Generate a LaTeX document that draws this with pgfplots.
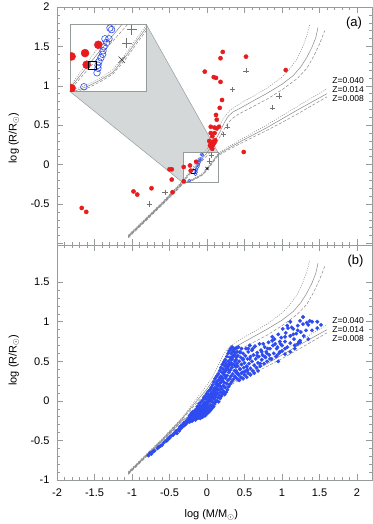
\documentclass[border=0pt]{standalone}
\usepackage{fontspec}
\setmainfont{Liberation Sans}
\usepackage{pgfplots}
\usepackage{pgfplotstable}
\pgfplotsset{compat=1.18}

\definecolor{axgray}{RGB}{150,156,156}
\definecolor{trk}{RGB}{135,135,135}
\definecolor{ptred}{RGB}{232,28,30}
\definecolor{ptblue}{RGB}{45,75,240}
\definecolor{zoomfill}{RGB}{212,216,216}

% ZAMS / TAMS tracks, A: Z=0.040 (dotted), B: Z=0.014 (solid), C: Z=0.008 (dashed)
\pgfplotstableread{
x y
-1.05 -0.91
-0.8 -0.68
-0.6 -0.495
-0.45 -0.355
-0.32 -0.225
-0.27 -0.21
-0.2 -0.185
-0.135 -0.155
-0.055 -0.105
0.02 -0.02
0.094 0.075
0.15 0.145
0.3 0.235
0.5 0.345
0.8 0.505
1.0 0.62
1.2 0.735
1.4 0.85
1.6 0.96
}\zamsA
\pgfplotstableread{
x y
-1.05 -0.92
-0.8 -0.69
-0.6 -0.505
-0.45 -0.365
-0.32 -0.235
-0.27 -0.22
-0.2 -0.195
-0.135 -0.165
-0.055 -0.12
0.02 -0.035
0.094 0.06
0.15 0.13
0.3 0.215
0.5 0.32
0.8 0.47
1.0 0.58
1.2 0.69
1.4 0.795
1.6 0.9
}\zamsB
\pgfplotstableread{
x y
-1.05 -0.93
-0.8 -0.70
-0.6 -0.515
-0.45 -0.375
-0.32 -0.245
-0.27 -0.23
-0.2 -0.205
-0.135 -0.175
-0.055 -0.13
0.02 -0.05
0.094 0.045
0.15 0.115
0.3 0.195
0.5 0.295
0.8 0.435
1.0 0.535
1.2 0.64
1.4 0.75
1.6 0.86
}\zamsC
\pgfplotstableread{
x y
-1.05 -0.895
-0.6 -0.48
-0.32 -0.20
-0.17 -0.01
-0.03 0.16
0.07 0.30
0.15 0.45
0.20 0.55
0.25 0.63
0.32 0.70
0.45 0.78
0.6 0.86
0.8 0.97
1.0 1.11
1.1 1.21
1.2 1.34
1.27 1.48
1.33 1.63
1.37 1.78
}\tamsA
\pgfplotstableread{
x y
-1.05 -0.905
-0.6 -0.49
-0.32 -0.21
-0.15 -0.015
0.0 0.15
0.1 0.29
0.18 0.43
0.23 0.53
0.28 0.61
0.34 0.665
0.45 0.72
0.6 0.80
0.8 0.905
1.0 1.02
1.15 1.13
1.25 1.24
1.33 1.36
1.40 1.49
1.45 1.61
1.48 1.74
}\tamsB
\pgfplotstableread{
x y
-1.05 -0.915
-0.6 -0.50
-0.32 -0.22
-0.13 -0.02
0.03 0.145
0.13 0.28
0.21 0.42
0.27 0.51
0.33 0.58
0.42 0.64
0.6 0.73
0.8 0.83
1.0 0.95
1.2 1.09
1.33 1.22
1.42 1.37
1.50 1.53
1.57 1.70
}\tamsC

\newcommand{\tracks}{%
  \addplot[trk, line width=0.5pt, dash pattern=on 1pt off 1.3pt] table {\zamsA};
  \addplot[trk, line width=0.5pt] table {\zamsB};
  \addplot[trk, line width=0.5pt, dash pattern=on 3pt off 1.8pt] table {\zamsC};
  \addplot[trk, line width=0.5pt, dash pattern=on 1pt off 1.3pt] table {\tamsA};
  \addplot[trk, line width=0.5pt] table {\tamsB};
  \addplot[trk, line width=0.5pt, dash pattern=on 3pt off 1.8pt] table {\tamsC};
}

% panel (a) samples
\newcommand{\redpts}{
(-1.67,-0.55) (-1.61,-0.60) (-0.98,-0.34) (-0.93,-0.38) (-0.74,-0.30)
(-0.50,-0.06) (-0.47,-0.06) (-0.47,-0.19) (-0.46,-0.35) (-0.31,-0.03)
(-0.31,-0.21) (-0.227,-0.011) (-0.217,-0.077) (-0.145,0.036) (0.49,0.16)
(0.21,1.43) (0.18,1.35) (0.52,1.37) (-0.03,1.18) (0.09,1.11) (0.12,1.10)
(0.18,1.05) (1.05,1.20) (0.20,0.82) (0.17,0.72) (0.12,0.63) (0.13,0.57)
(0.05,0.48) (0.10,0.47) (0.13,0.46) (0.16,0.48) (0.05,0.40) (0.07,0.36)
(0.10,0.40) (0.03,0.30) (0.05,0.27) (0.07,0.29) (0.04,0.24) (0.08,0.25)
(0.10,0.28) (0.06,0.22) (0.07,0.20) (0.11,0.31)}
\newcommand{\pluspts}{
(-0.77,-0.50) (-0.56,-0.35) (0.52,1.19) (0.34,0.95) (0.96,0.87) (0.87,0.72)
(0.27,0.48) (0.22,0.38) (0.061,0.122) (0.03,0.046)}
\newcommand{\crosspts}{(0.0,-0.049)}
\newcommand{\bluepts}{
(-0.073,0.131) (-0.063,0.122) (-0.079,0.07) (-0.104,0.07) (-0.094,0.048)
(-0.11,0.025) (-0.116,0.002) (-0.118,-0.018) (-0.129,-0.037) (-0.141,-0.06)
(-0.147,-0.08) (-0.147,-0.097) (-0.153,-0.123) (-0.234,-0.202)}

\tikzset{zlab/.style={font=\fontsize{8.5}{10}\selectfont, anchor=west, inner sep=0pt}}
\pgfplotsset{
  panel/.style={
    scale only axis, width=315pt,
    xmin=-2, xmax=2.2,
    xtick={-2,-1.5,-1,-0.5,0,0.5,1,1.5,2},
    minor x tick num=4, minor y tick num=4,
    axis line style={axgray, line width=0.6pt},
    tick style={axgray, line width=0.5pt},
    major tick length=6pt, minor tick length=3pt,
    tick label style={font=\fontsize{11}{13}\selectfont},
    yticklabel style={xshift=-4pt},
    xticklabel style={yshift=-5pt},
    label style={font=\fontsize{11}{13}\selectfont},
    clip=true,
  },
}

\begin{document}
\begin{tikzpicture}
\useasboundingbox (-57pt,-44pt) rectangle (315pt,480pt);

% ---------- panel (b) ----------
\begin{axis}[panel, at={(0pt,0pt)}, anchor=south west, height=235pt,
    ymin=-1, ymax=1.97,
    ytick={-1,-0.5,0,0.5,1,1.5}, yticklabels={-1,-0.5,0,0.5,1,1.5},
    xticklabels={-2,-1.5,-1,-0.5,0,0.5,1,1.5,2},
    xlabel={log (M/M$_\odot$)}, ylabel={log (R/R$_\odot$)},
    xlabel style={at={(axis description cs:0.49,-0.149)}, anchor=center},
    ylabel style={at={(axis description cs:-0.137,0.51)}, anchor=center},
]
\tracks
\addplot[only marks, mark=*, mark size=1.75pt, mark options={draw=ptblue, fill=ptblue}] coordinates {
(-0.78,-0.69) (-0.76,-0.66) (-0.74,-0.67) (-0.72,-0.64) (-0.70,-0.63) (-0.66,-0.60)
(-0.64,-0.58) (-0.62,-0.57) (-0.60,-0.56) (-0.58,-0.53) (-0.55,-0.51) (-0.53,-0.50)
(-0.52,-0.48) (-0.50,-0.47) (-0.49,-0.45) (-0.47,-0.44) (-0.45,-0.43) (-0.44,-0.41)
(-0.42,-0.40) (-0.41,-0.38) (-0.40,-0.41) (-0.38,-0.36) (-0.37,-0.38) (-0.36,-0.33)
(-0.35,-0.35) (-0.34,-0.31) (-0.33,-0.33) (-0.32,-0.30) (-0.31,-0.28) (-0.30,-0.31)
(-0.29,-0.27) (-0.28,-0.29) (-0.27,-0.25) (-0.26,-0.27)
(-0.25,-0.26) (-0.245,-0.22) (-0.24,-0.245) (-0.235,-0.19) (-0.23,-0.265) (-0.225,-0.215)
(-0.22,-0.175) (-0.215,-0.24) (-0.21,-0.2) (-0.205,-0.15) (-0.2,-0.255) (-0.197,-0.22)
(-0.19,-0.17) (-0.187,-0.135) (-0.18,-0.235) (-0.176,-0.195) (-0.17,-0.155) (-0.166,-0.21)
(-0.16,-0.12) (-0.155,-0.24) (-0.152,-0.175)
(-0.148,-0.145) (-0.144,-0.2) (-0.14,-0.1) (-0.137,-0.225) (-0.133,-0.16) (-0.128,-0.07)
(-0.125,-0.19) (-0.12,-0.125) (-0.116,-0.215) (-0.112,-0.085) (-0.108,-0.165) (-0.104,-0.035)
(-0.1,-0.2) (-0.097,-0.13) (-0.093,-0.06) (-0.09,-0.22) (-0.086,-0.17) (-0.082,-0.1)
(-0.078,-0.015) (-0.075,-0.19) (-0.071,-0.14) (-0.068,-0.07) (-0.064,-0.205) (-0.06,-0.11)
(-0.057,0.01) (-0.053,-0.16) (-0.05,-0.045)
(-0.047,-0.195) (-0.044,-0.12) (-0.041,0.035) (-0.038,-0.075) (-0.035,-0.16) (-0.031,-0.02)
(-0.028,-0.1) (-0.025,0.06) (-0.021,-0.185) (-0.018,-0.135) (-0.015,-0.05) (-0.011,0.02)
(-0.008,-0.09) (-0.004,0.09) (0.0,-0.16) (0.003,-0.03) (0.007,-0.115) (0.01,0.05)
(0.013,-0.07) (0.017,0.12) (0.02,-0.145) (0.024,-0.01) (0.027,0.08) (0.031,-0.09)
(0.034,0.03) (0.038,-0.125) (0.041,0.14) (0.045,-0.05) (0.048,0.07)
(0.052,-0.11) (0.055,0.0) (0.058,0.17) (0.062,-0.06) (0.065,0.11) (0.068,0.04)
(0.072,-0.09) (0.075,0.2) (0.078,-0.02) (0.082,0.08) (0.085,0.14) (0.088,-0.07)
(0.092,0.24) (0.095,0.02) (0.098,0.1) (0.102,-0.04) (0.105,0.17) (0.108,0.28)
(0.112,0.05) (0.115,-0.01) (0.118,0.13) (0.122,0.21) (0.125,0.08) (0.128,0.31)
(0.132,0.0) (0.135,0.16) (0.138,0.25) (0.142,0.1) (0.145,0.04) (0.148,0.2)
(0.152,0.34) (0.155,-0.01) (0.158,0.14) (0.162,0.27) (0.165,0.07) (0.168,0.22)
(0.172,0.38) (0.175,0.03) (0.178,0.18) (0.182,0.11) (0.185,0.31) (0.188,0.42)
(0.192,0.06) (0.195,0.24) (0.198,0.15) (0.202,0.36) (0.205,0.46) (0.208,0.09)
(0.212,0.28) (0.215,0.19) (0.218,0.4) (0.222,0.12) (0.225,0.49) (0.228,0.33)
(0.232,0.23) (0.235,0.08) (0.238,0.44) (0.242,0.17) (0.245,0.52) (0.248,0.29)
(0.252,0.38) (0.255,0.11) (0.258,0.47) (0.262,0.22) (0.265,0.56) (0.268,0.32)
(0.272,0.14) (0.275,0.42) (0.278,0.26) (0.282,0.6) (0.285,0.5) (0.288,0.18)
(0.292,0.36) (0.295,0.63) (0.298,0.45) (0.302,0.28) (0.305,0.21) (0.308,0.55)
(0.312,0.39) (0.315,0.66) (0.318,0.31) (0.322,0.48) (0.325,0.6) (0.328,0.24)
(0.332,0.42) (0.335,0.68) (0.338,0.53) (0.342,0.34) (0.345,0.63) (0.348,0.27)
(0.352,0.46) (0.355,0.57) (0.36,0.66) (0.365,0.38) (0.37,0.5) (0.375,0.3)
(0.38,0.61) (0.385,0.43) (0.39,0.55) (0.395,0.35) (0.4,0.67)
(-0.13,-0.17) (-0.1,-0.12) (-0.07,-0.1) (-0.04,-0.06) (-0.02,-0.04) (0.01,-0.01)
(0.03,0.02) (0.06,0.05) (0.08,0.1) (0.1,0.12) (0.12,0.15) (0.14,0.19)
(0.16,0.2) (0.18,0.26) (0.2,0.3) (0.22,0.35) (0.24,0.37) (0.26,0.41)
(0.28,0.44) (0.3,0.47) (0.32,0.52) (0.34,0.56) (0.05,0.09) (0.09,0.06)
(0.13,0.22) (0.17,0.29) (0.21,0.25) (0.25,0.31) (0.29,0.39) (0.33,0.45)
(0.43,0.26) (0.48,0.28) (0.53,0.30) (0.58,0.33) (0.63,0.35) (0.68,0.38)
(0.42,0.33) (0.46,0.35) (0.50,0.37) (0.54,0.39) (0.40,0.36) (0.44,0.40)
(0.37,0.31) (0.37,0.45) (0.37,0.58) (0.38,0.66) (0.39,0.38) (0.39,0.52)
(0.40,0.28) (0.40,0.62) (0.41,0.44) (0.41,0.57) (0.42,0.34) (0.42,0.68)
(0.43,0.50) (0.44,0.40) (0.44,0.61) (0.45,0.30) (0.45,0.55) (0.46,0.46)
(0.46,0.66) (0.47,0.36) (0.48,0.52) (0.48,0.60) (0.49,0.42) (0.50,0.33)
(0.50,0.48) (0.51,0.57) (0.52,0.66) (0.52,0.38) (0.53,0.44) (0.54,0.53)
(0.55,0.62) (0.55,0.35) (0.56,0.47) (0.57,0.70) (0.58,0.41) (0.58,0.56)
(0.60,0.50) (0.60,0.64) (0.61,0.38) (0.62,0.58) (0.63,0.45) (0.64,0.69)
(0.65,0.53) (0.66,0.42) (0.67,0.61) (0.68,0.48) (0.69,0.56) (0.70,0.72)
(0.71,0.44) (0.72,0.64) (0.73,0.52) (0.74,0.58) (0.76,0.47) (0.77,0.68)
(0.78,0.55) (0.79,0.62) (0.80,0.50) (0.82,0.74) (0.83,0.58) (0.84,0.66)
(0.86,0.53) (0.88,0.70) (0.89,0.60) (0.90,0.78) (0.92,0.56) (0.94,0.68)
(0.95,0.84) (0.96,0.60) (0.98,0.72) (0.99,0.80)
(1.37,1.01) (1.24,1.01) (1.47,1.00) (1.11,1.00) (1.07,0.95) (1.21,0.89)
(1.32,0.89) (1.28,0.97) (1.01,0.91) (0.87,0.81) (1.04,0.81) (1.15,0.84)
(0.97,0.75) (1.11,0.73) (1.24,0.76) (0.91,0.72) (0.97,0.62) (1.04,0.66)
(1.17,0.66) (0.81,0.66) (0.61,0.66) (0.73,0.62) (0.67,0.57) (0.77,0.56)
(0.57,0.53) (0.48,0.53) (0.40,0.47) (0.53,0.43) (0.71,0.47) (0.35,0.63)
(1.28,1.06) (1.40,1.00) (1.52,0.96) (1.33,0.99) (1.21,0.95) (1.15,0.91)
(1.08,0.92) (1.25,0.87) (1.40,0.89) (1.19,0.85) (1.11,0.82) (1.29,0.82)
(1.35,0.78) (1.16,0.78) (1.04,0.75) (1.23,0.75) (1.07,0.68) (1.17,0.70)
(1.00,0.70) (1.00,0.63) (1.11,0.62) (1.47,0.92)
(1.35,0.96) (1.13,0.93) (1.05,0.86) (0.87,0.76) (0.75,0.72) (1.21,0.72)
(0.93,0.66) (1.24,0.74) (0.55,0.66) (0.44,0.62) (0.80,0.60) (0.84,0.53)
(0.93,0.57) (1.04,0.59) (0.95,0.50)
};
\node[zlab] at (axis cs:1.67,1.01) {Z=0.040};
\node[zlab] at (axis cs:1.67,0.90) {Z=0.014};
\node[zlab] at (axis cs:1.67,0.79) {Z=0.008};
\node[font=\fontsize{13}{15}\selectfont] at (axis cs:1.98,1.77) {(b)};
\end{axis}

% ---------- panel (a) ----------
\begin{axis}[panel, at={(0pt,235pt)}, anchor=south west, height=238pt,
    ymin=-1.02, ymax=2,
    ytick={-1,-0.5,0,0.5,1,1.5,2}, yticklabels={,-0.5,0,0.5,1,1.5,2},
    xticklabels={},
    ylabel={log (R/R$_\odot$)},
    ylabel style={at={(axis description cs:-0.137,0.45)}, anchor=center},
]
\fill[zoomfill, draw=axgray, line width=0.5pt] (axis cs:-1.83,0.93) -- (axis cs:-0.32,-0.23)
  -- (axis cs:0.15,0.15) -- (axis cs:-0.81,1.78) -- cycle;
\draw[axgray, line width=0.6pt, fill=white] (axis cs:-0.32,-0.23) rectangle (axis cs:0.15,0.15);
\tracks
\addplot[only marks, mark=o, mark size=1.5pt, mark options={draw=ptblue, line width=0.4pt}] coordinates {\bluepts};
\addplot[only marks, mark=*, mark size=2.1pt, mark options={draw=ptred, fill=ptred}] coordinates {\redpts};
\addplot[only marks, mark=+, mark size=2.6pt, mark options={draw=black!55, line width=0.5pt}] coordinates {\pluspts};
\addplot[only marks, mark=x, mark size=2.2pt, mark options={draw=black, line width=0.5pt}] coordinates {\crosspts};
\draw[black, line width=0.5pt] (axis cs:-0.207,-0.106) rectangle (axis cs:-0.155,-0.058);
\node[zlab] at (axis cs:1.67,1.07) {Z=0.040};
\node[zlab] at (axis cs:1.67,0.955) {Z=0.014};
\node[zlab] at (axis cs:1.67,0.84) {Z=0.008};
\node[font=\fontsize{13}{15}\selectfont] at (axis cs:1.96,1.80) {(a)};
\end{axis}

% ---------- zoom inset ----------
\begin{axis}[at={(13pt,388.3pt)}, anchor=south west, scale only axis,
    width=76pt, height=67pt,
    xmin=-0.32, xmax=0.15, ymin=-0.23, ymax=0.15,
    ticks=none, axis line style={axgray, line width=0.6pt},
    axis background/.style={fill=white}, clip=true, clip marker paths=true]
\tracks
\addplot[only marks, mark=o, mark size=3.3pt, mark options={draw=ptblue, line width=0.6pt}] coordinates {\bluepts};
\addplot[only marks, mark=*, mark size=4pt, mark options={draw=ptred, fill=ptred}] coordinates {\redpts};
\addplot[only marks, mark=+, mark size=5pt, mark options={draw=black!55, line width=0.6pt}] coordinates {\pluspts};
\addplot[only marks, mark=x, mark size=4.5pt, mark options={draw=black!80, line width=0.6pt}] coordinates {\crosspts};
\draw[black, line width=0.8pt] (axis cs:-0.207,-0.106) rectangle (axis cs:-0.155,-0.058);
\end{axis}
\end{tikzpicture}
\end{document}
